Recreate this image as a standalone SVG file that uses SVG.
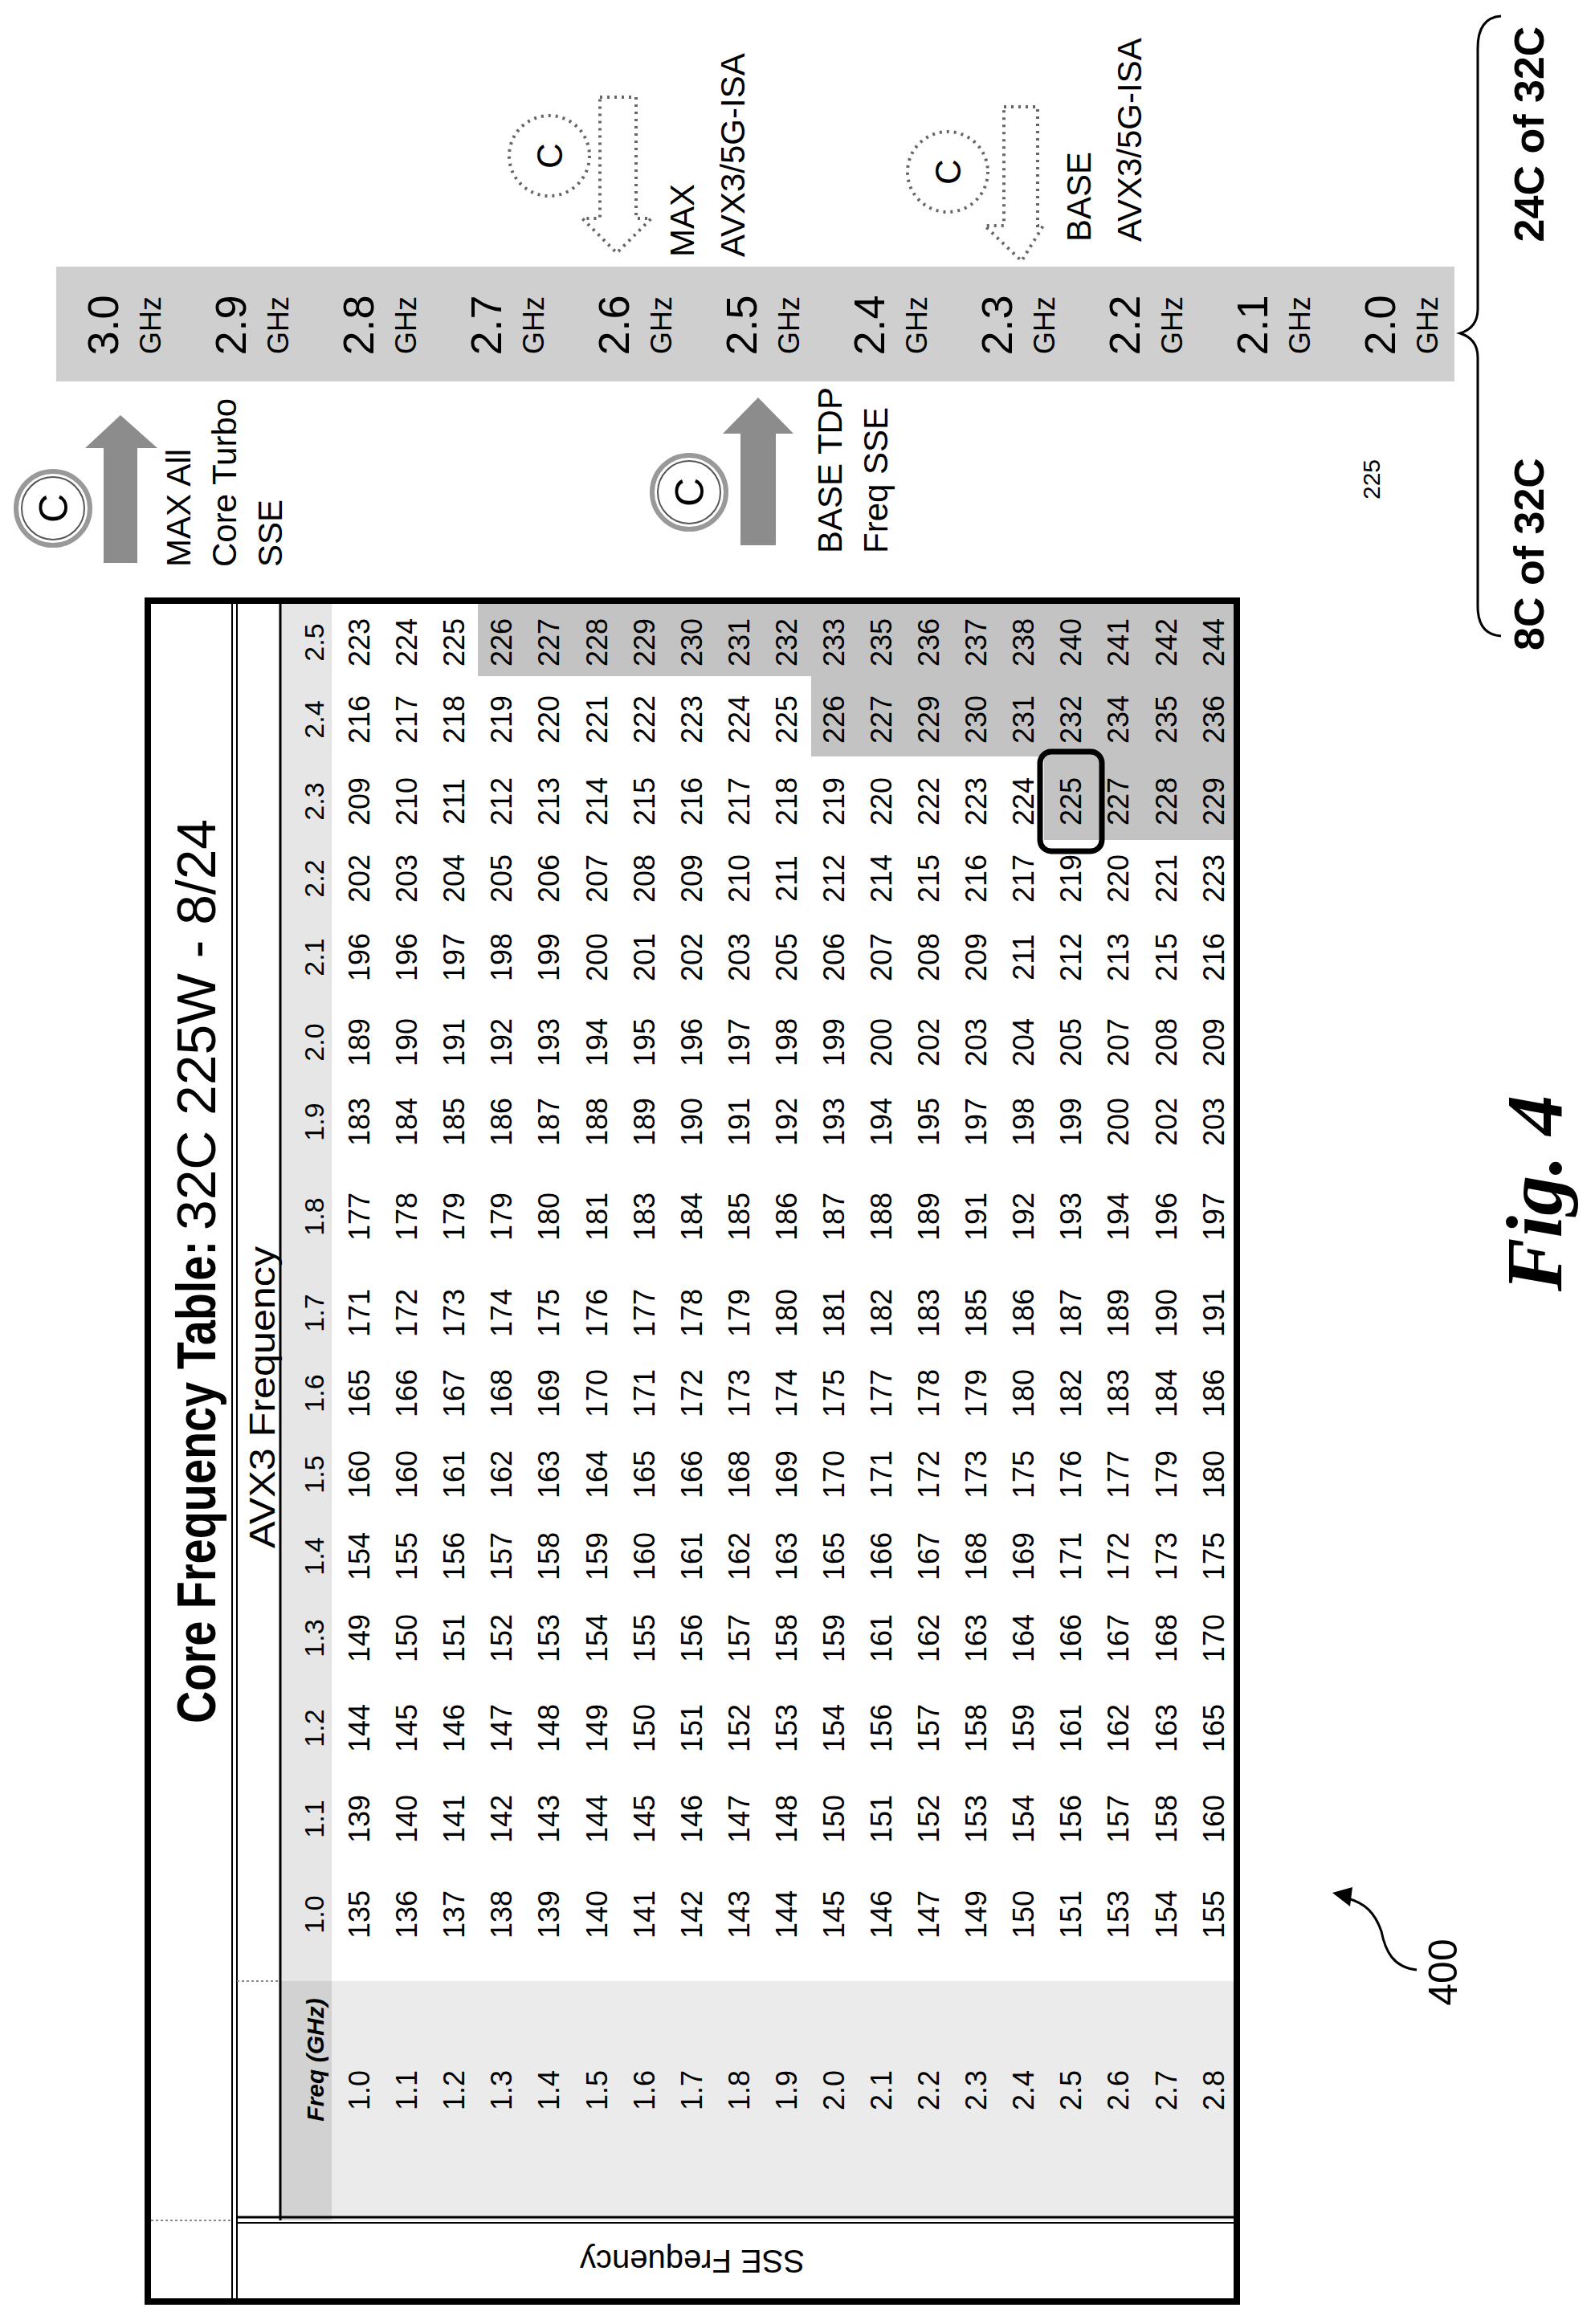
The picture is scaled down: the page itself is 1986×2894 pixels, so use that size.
<svg xmlns="http://www.w3.org/2000/svg" width="1986" height="2894" viewBox="0 0 1986 2894">
<style>
text{font-family:"Liberation Sans",Arial,sans-serif;fill:#000}
.v{font-size:36px;text-anchor:middle}
.h{font-size:34px;text-anchor:middle}
.lab{font-size:42px}
.num{font-size:54px;text-anchor:middle}
.ghz{font-size:36px;text-anchor:middle}
.ln{stroke:#000;fill:none}
.dot{stroke:#666;stroke-width:4;stroke-dasharray:3 6;fill:none}
text.fig{font-family:"Liberation Serif","Times New Roman",serif;font-size:100px;font-weight:bold;font-style:italic;text-anchor:middle}
text.ttl{font-family:"Liberation Sans Narrow","Liberation Sans",sans-serif;font-weight:bold;font-size:68px}
</style>
<rect width="1986" height="2894" fill="#fff"/>
<g id="shading">
<rect x="70" y="332" width="1741" height="143" fill="#cfcfcf"/>
<rect x="349" y="748" width="64" height="2017" fill="#e6e6e6"/>
<rect x="413" y="2467" width="1127" height="298" fill="#ebebeb"/>
<rect x="349" y="2467" width="64" height="298" fill="#d2d2d2"/>
<rect x="595" y="748" width="945" height="94" fill="#c3c3c3"/>
<rect x="1010" y="842" width="530" height="100" fill="#c3c3c3"/>
<rect x="1300" y="942" width="240" height="104" fill="#c3c3c3"/>
</g>
<g id="table-frame">
<rect x="184" y="748" width="1356" height="2118" class="ln" stroke-width="8"/>
<line x1="289" y1="748" x2="289" y2="2866" class="ln" stroke-width="2"/>
<line x1="295" y1="748" x2="295" y2="2866" class="ln" stroke-width="2"/>
<line x1="349" y1="748" x2="349" y2="2765" class="ln" stroke-width="3"/>
<line x1="295" y1="2761" x2="1540" y2="2761" class="ln" stroke-width="3"/>
<line x1="295" y1="2768" x2="1540" y2="2768" class="ln" stroke-width="2"/>
<line x1="295" y1="2467" x2="349" y2="2467" stroke="#888" stroke-width="2" stroke-dasharray="3 3"/>
<line x1="188" y1="2765" x2="289" y2="2765" stroke="#888" stroke-width="2" stroke-dasharray="3 3"/>
<rect x="1295" y="936" width="77" height="124" rx="14" class="ln" stroke-width="7"/>
<text x="862" y="2830" transform="rotate(180 862 2816)" font-size="40" text-anchor="middle">SSE Frequency</text>
</g>
<g id="table-text" transform="translate(0,2894) rotate(-90)">
<text class="ttl" x="748" y="268" textLength="601" lengthAdjust="spacingAndGlyphs">Core Frequency Table:</text>
<text x="1362" y="268" font-size="68" textLength="512" lengthAdjust="spacingAndGlyphs">32C 225W - 8/24</text>
<text x="1154" y="342" font-size="44" text-anchor="middle" textLength="376" lengthAdjust="spacingAndGlyphs">AVX3 Frequency</text>
<g transform="translate(0,403)" class="h">
<text x="329" font-size="30" font-weight="bold" font-style="italic">Freq (GHz)</text>
<text x="510">1.0</text><text x="629">1.1</text><text x="742">1.2</text><text x="854">1.3</text><text x="956">1.4</text><text x="1058">1.5</text><text x="1159">1.6</text><text x="1259">1.7</text><text x="1379">1.8</text><text x="1497">1.9</text><text x="1596">2.0</text><text x="1702">2.1</text><text x="1800">2.2</text><text x="1896">2.3</text><text x="1998">2.4</text><text x="2094">2.5</text>
</g>
<g class="v">
<g id="r10" transform="translate(0,460)"><text x="291">1.0</text><text x="510">135</text><text x="629">139</text><text x="742">144</text><text x="854">149</text><text x="956">154</text><text x="1058">160</text><text x="1159">165</text><text x="1259">171</text><text x="1379">177</text><text x="1497">183</text><text x="1596">189</text><text x="1702">196</text><text x="1800">202</text><text x="1896">209</text><text x="1998">216</text><text x="2094">223</text></g>
<g id="r11" transform="translate(0,519)"><text x="291">1.1</text><text x="510">136</text><text x="629">140</text><text x="742">145</text><text x="854">150</text><text x="956">155</text><text x="1058">160</text><text x="1159">166</text><text x="1259">172</text><text x="1379">178</text><text x="1497">184</text><text x="1596">190</text><text x="1702">196</text><text x="1800">203</text><text x="1896">210</text><text x="1998">217</text><text x="2094">224</text></g>
<g id="r12" transform="translate(0,578)"><text x="291">1.2</text><text x="510">137</text><text x="629">141</text><text x="742">146</text><text x="854">151</text><text x="956">156</text><text x="1058">161</text><text x="1159">167</text><text x="1259">173</text><text x="1379">179</text><text x="1497">185</text><text x="1596">191</text><text x="1702">197</text><text x="1800">204</text><text x="1896">211</text><text x="1998">218</text><text x="2094">225</text></g>
<g id="r13" transform="translate(0,637)"><text x="291">1.3</text><text x="510">138</text><text x="629">142</text><text x="742">147</text><text x="854">152</text><text x="956">157</text><text x="1058">162</text><text x="1159">168</text><text x="1259">174</text><text x="1379">179</text><text x="1497">186</text><text x="1596">192</text><text x="1702">198</text><text x="1800">205</text><text x="1896">212</text><text x="1998">219</text><text x="2094">226</text></g>
<g id="r14" transform="translate(0,696)"><text x="291">1.4</text><text x="510">139</text><text x="629">143</text><text x="742">148</text><text x="854">153</text><text x="956">158</text><text x="1058">163</text><text x="1159">169</text><text x="1259">175</text><text x="1379">180</text><text x="1497">187</text><text x="1596">193</text><text x="1702">199</text><text x="1800">206</text><text x="1896">213</text><text x="1998">220</text><text x="2094">227</text></g>
<g id="r15" transform="translate(0,756)"><text x="291">1.5</text><text x="510">140</text><text x="629">144</text><text x="742">149</text><text x="854">154</text><text x="956">159</text><text x="1058">164</text><text x="1159">170</text><text x="1259">176</text><text x="1379">181</text><text x="1497">188</text><text x="1596">194</text><text x="1702">200</text><text x="1800">207</text><text x="1896">214</text><text x="1998">221</text><text x="2094">228</text></g>
<g id="r16" transform="translate(0,815)"><text x="291">1.6</text><text x="510">141</text><text x="629">145</text><text x="742">150</text><text x="854">155</text><text x="956">160</text><text x="1058">165</text><text x="1159">171</text><text x="1259">177</text><text x="1379">183</text><text x="1497">189</text><text x="1596">195</text><text x="1702">201</text><text x="1800">208</text><text x="1896">215</text><text x="1998">222</text><text x="2094">229</text></g>
<g id="r17" transform="translate(0,874)"><text x="291">1.7</text><text x="510">142</text><text x="629">146</text><text x="742">151</text><text x="854">156</text><text x="956">161</text><text x="1058">166</text><text x="1159">172</text><text x="1259">178</text><text x="1379">184</text><text x="1497">190</text><text x="1596">196</text><text x="1702">202</text><text x="1800">209</text><text x="1896">216</text><text x="1998">223</text><text x="2094">230</text></g>
<g id="r18" transform="translate(0,933)"><text x="291">1.8</text><text x="510">143</text><text x="629">147</text><text x="742">152</text><text x="854">157</text><text x="956">162</text><text x="1058">168</text><text x="1159">173</text><text x="1259">179</text><text x="1379">185</text><text x="1497">191</text><text x="1596">197</text><text x="1702">203</text><text x="1800">210</text><text x="1896">217</text><text x="1998">224</text><text x="2094">231</text></g>
<g id="r19" transform="translate(0,992)"><text x="291">1.9</text><text x="510">144</text><text x="629">148</text><text x="742">153</text><text x="854">158</text><text x="956">163</text><text x="1058">169</text><text x="1159">174</text><text x="1259">180</text><text x="1379">186</text><text x="1497">192</text><text x="1596">198</text><text x="1702">205</text><text x="1800">211</text><text x="1896">218</text><text x="1998">225</text><text x="2094">232</text></g>
<g id="r20" transform="translate(0,1051)"><text x="291">2.0</text><text x="510">145</text><text x="629">150</text><text x="742">154</text><text x="854">159</text><text x="956">165</text><text x="1058">170</text><text x="1159">175</text><text x="1259">181</text><text x="1379">187</text><text x="1497">193</text><text x="1596">199</text><text x="1702">206</text><text x="1800">212</text><text x="1896">219</text><text x="1998">226</text><text x="2094">233</text></g>
<g id="r21" transform="translate(0,1110)"><text x="291">2.1</text><text x="510">146</text><text x="629">151</text><text x="742">156</text><text x="854">161</text><text x="956">166</text><text x="1058">171</text><text x="1159">177</text><text x="1259">182</text><text x="1379">188</text><text x="1497">194</text><text x="1596">200</text><text x="1702">207</text><text x="1800">214</text><text x="1896">220</text><text x="1998">227</text><text x="2094">235</text></g>
<g id="r22" transform="translate(0,1169)"><text x="291">2.2</text><text x="510">147</text><text x="629">152</text><text x="742">157</text><text x="854">162</text><text x="956">167</text><text x="1058">172</text><text x="1159">178</text><text x="1259">183</text><text x="1379">189</text><text x="1497">195</text><text x="1596">202</text><text x="1702">208</text><text x="1800">215</text><text x="1896">222</text><text x="1998">229</text><text x="2094">236</text></g>
<g id="r23" transform="translate(0,1228)"><text x="291">2.3</text><text x="510">149</text><text x="629">153</text><text x="742">158</text><text x="854">163</text><text x="956">168</text><text x="1058">173</text><text x="1159">179</text><text x="1259">185</text><text x="1379">191</text><text x="1497">197</text><text x="1596">203</text><text x="1702">209</text><text x="1800">216</text><text x="1896">223</text><text x="1998">230</text><text x="2094">237</text></g>
<g id="r24" transform="translate(0,1287)"><text x="291">2.4</text><text x="510">150</text><text x="629">154</text><text x="742">159</text><text x="854">164</text><text x="956">169</text><text x="1058">175</text><text x="1159">180</text><text x="1259">186</text><text x="1379">192</text><text x="1497">198</text><text x="1596">204</text><text x="1702">211</text><text x="1800">217</text><text x="1896">224</text><text x="1998">231</text><text x="2094">238</text></g>
<g id="r25" transform="translate(0,1346)"><text x="291">2.5</text><text x="510">151</text><text x="629">156</text><text x="742">161</text><text x="854">166</text><text x="956">171</text><text x="1058">176</text><text x="1159">182</text><text x="1259">187</text><text x="1379">193</text><text x="1497">199</text><text x="1596">205</text><text x="1702">212</text><text x="1800">219</text><text x="1896">225</text><text x="1998">232</text><text x="2094">240</text></g>
<g id="r26" transform="translate(0,1405)"><text x="291">2.6</text><text x="510">153</text><text x="629">157</text><text x="742">162</text><text x="854">167</text><text x="956">172</text><text x="1058">177</text><text x="1159">183</text><text x="1259">189</text><text x="1379">194</text><text x="1497">200</text><text x="1596">207</text><text x="1702">213</text><text x="1800">220</text><text x="1896">227</text><text x="1998">234</text><text x="2094">241</text></g>
<g id="r27" transform="translate(0,1465)"><text x="291">2.7</text><text x="510">154</text><text x="629">158</text><text x="742">163</text><text x="854">168</text><text x="956">173</text><text x="1058">179</text><text x="1159">184</text><text x="1259">190</text><text x="1379">196</text><text x="1497">202</text><text x="1596">208</text><text x="1702">215</text><text x="1800">221</text><text x="1896">228</text><text x="1998">235</text><text x="2094">242</text></g>
<g id="r28" transform="translate(0,1524)"><text x="291">2.8</text><text x="510">155</text><text x="629">160</text><text x="742">165</text><text x="854">170</text><text x="956">175</text><text x="1058">180</text><text x="1159">186</text><text x="1259">191</text><text x="1379">197</text><text x="1497">203</text><text x="1596">209</text><text x="1702">216</text><text x="1800">223</text><text x="1896">229</text><text x="1998">236</text><text x="2094">244</text></g>
</g>
<text class="fig" x="1408" y="1944">Fig. 4</text>
<text x="438" y="1814" font-size="50" text-anchor="middle">400</text>
</g>
<g id="freq-bar" transform="translate(0,2894) rotate(-90)">
<g transform="translate(2489,0)">
<text class="num" y="147">3.0</text><text class="ghz" y="200">GHz</text>
<text class="num" y="306">2.9</text><text class="ghz" y="359">GHz</text>
<text class="num" y="465">2.8</text><text class="ghz" y="518">GHz</text>
<text class="num" y="624">2.7</text><text class="ghz" y="677">GHz</text>
<text class="num" y="783">2.6</text><text class="ghz" y="836">GHz</text>
<text class="num" y="942">2.5</text><text class="ghz" y="995">GHz</text>
<text class="num" y="1101">2.4</text><text class="ghz" y="1154">GHz</text>
<text class="num" y="1260">2.3</text><text class="ghz" y="1313">GHz</text>
<text class="num" y="1419">2.2</text><text class="ghz" y="1472">GHz</text>
<text class="num" y="1578">2.1</text><text class="ghz" y="1631">GHz</text>
<text class="num" y="1737">2.0</text><text class="ghz" y="1790">GHz</text>
</g>
</g>
<g id="max-turbo">
<circle cx="66" cy="633" r="46" fill="none" stroke="#999" stroke-width="6"/>
<circle cx="66" cy="633" r="39" fill="none" stroke="#555" stroke-width="2"/>
<text transform="translate(84,633) rotate(-90)" font-size="50" fill="#666" text-anchor="middle">C</text>
<polygon points="129,701 171,701 171,558 196,558 150,517 106,558 129,558" fill="#8c8c8c"/>
<g transform="translate(0,706)" class="lab">
<text transform="translate(237,0) rotate(-90)">MAX All</text>
<text transform="translate(294,0) rotate(-90)">Core Turbo</text>
<text transform="translate(351,0) rotate(-90)">SSE</text>
</g>
</g>
<g id="base-tdp">
<circle cx="858" cy="613" r="46" fill="none" stroke="#999" stroke-width="6"/>
<circle cx="858" cy="613" r="39" fill="none" stroke="#555" stroke-width="2"/>
<text transform="translate(876,613) rotate(-90)" font-size="50" fill="#666" text-anchor="middle">C</text>
<polygon points="922,679 966,679 966,540 988,540 944,495 900,540 922,540" fill="#8c8c8c"/>
<g transform="translate(0,689)" class="lab">
<text transform="translate(1048,0) rotate(-90)">BASE TDP</text>
<text transform="translate(1105,0) rotate(-90)">Freq SSE</text>
</g>
</g>
<g id="max-avx">
<circle cx="684" cy="194" r="50" class="dot"/>
<text transform="translate(700,194) rotate(-90)" font-size="44" fill="#777" text-anchor="middle">C</text>
<polygon points="747,121 792,121 792,272 811,272 768,315 725,272 747,272" class="dot"/>
<g transform="translate(0,320)" class="lab">
<text transform="translate(864,0) rotate(-90)">MAX</text>
<text transform="translate(927,0) rotate(-90)">AVX3/5G-ISA</text>
</g>
</g>
<g id="base-avx">
<circle cx="1180" cy="214" r="50" class="dot"/>
<text transform="translate(1196,214) rotate(-90)" font-size="44" fill="#777" text-anchor="middle">C</text>
<polygon points="1250,133 1292,133 1292,281 1299,281 1272,325 1226,281 1250,281" class="dot"/>
<g transform="translate(0,301)" class="lab">
<text transform="translate(1358,0) rotate(-90)">BASE</text>
<text transform="translate(1421,0) rotate(-90)">AVX3/5G-ISA</text>
</g>
</g>
<g id="core-split">
<text transform="translate(1718,597) rotate(-90)" font-size="30" text-anchor="middle">225</text>
<path d="M1869,20 Q1840,22 1840,60 L1840,385 Q1840,408 1818,415 Q1840,422 1840,445 L1840,755 Q1840,790 1869,792" fill="none" stroke="#000" stroke-width="3"/>
<text transform="translate(1922,167) rotate(-90)" font-size="52" font-weight="bold" text-anchor="middle" fill="#222">24C of 32C</text>
<text transform="translate(1922,690) rotate(-90)" font-size="52" font-weight="bold" text-anchor="middle" fill="#222">8C of 32C</text>
</g>
<g id="connectors">
<path d="M1764,2453 C1735,2450 1725,2430 1720,2405 C1712,2382 1700,2370 1678,2364" fill="none" stroke="#000" stroke-width="3"/>
<polygon points="1659,2357 1684,2350 1681,2374" fill="#000"/>
</g>
</svg>
